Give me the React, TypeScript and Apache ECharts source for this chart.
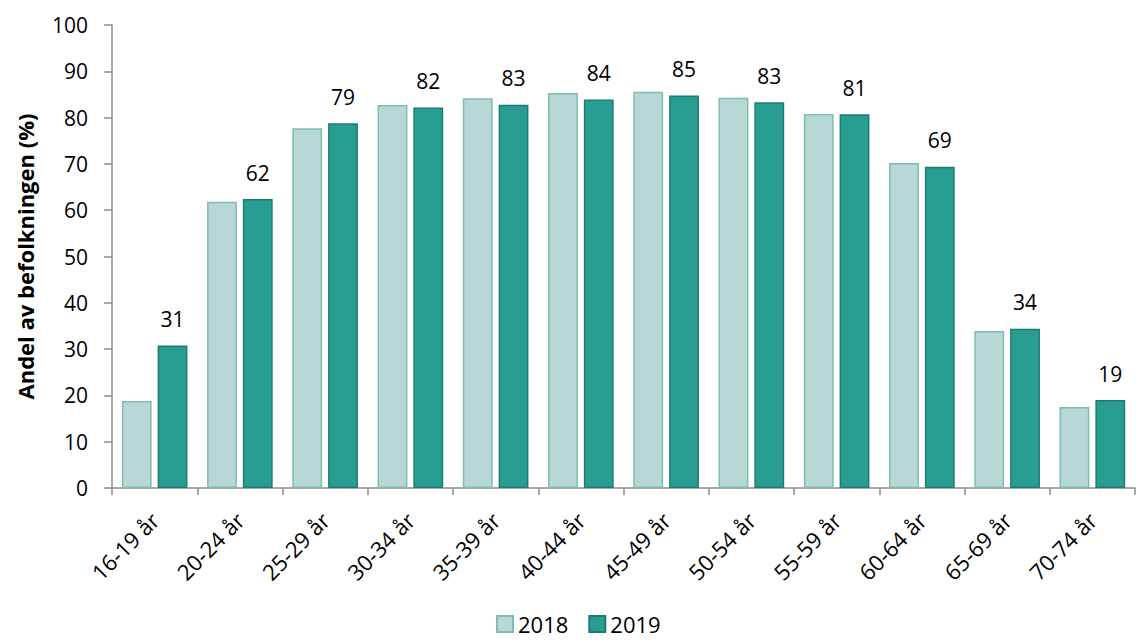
import React, { useEffect, useRef } from "react";
import * as echarts from "echarts";

const categories = ["16-19 år", "20-24 år", "25-29 år", "30-34 år", "35-39 år", "40-44 år", "45-49 år", "50-54 år", "55-59 år", "60-64 år", "65-69 år", "70-74 år"];
const values2018 = [18.8, 61.8, 77.7, 82.7, 84.2, 85.3, 85.6, 84.3, 80.8, 70.2, 33.9, 17.5];
const values2019 = [30.8, 62.4, 78.8, 82.2, 82.8, 83.9, 84.8, 83.3, 80.7, 69.4, 34.4, 19.0];
const yTicks = [0, 10, 20, 30, 40, 50, 60, 70, 80, 90, 100];

const FONT = "'Open Sans', Carlito, Lato, sans-serif";

export default function App() {
  const ref = useRef<HTMLDivElement>(null);
  useEffect(() => {
    if (!ref.current) return;
    const chart = echarts.init(ref.current, null, { renderer: "svg" });
    chart.setOption({
      animation: false,
      textStyle: { fontFamily: FONT },
      grid: { left: 112, right: 1, top: 25, bottom: 153, containLabel: false },
      legend: {
        top: 613,
        left: 496,
        padding: 0,
        itemWidth: 16,
        itemHeight: 16,
        itemGap: 20,
        icon: "rect",
        textStyle: { fontSize: 22, lineHeight: 22, color: "#000", fontFamily: FONT },
        data: ["2018", "2019"],
      },
      xAxis: {
        type: "category",
        data: categories,
        axisLine: { lineStyle: { color: "#8c8c8c", width: 1.5 } },
        axisTick: { show: true, length: 7, lineStyle: { color: "#8c8c8c", width: 1.5 } },
        axisLabel: { rotate: 45, fontSize: 22, color: "#000", margin: 28, fontFamily: FONT },
      },
      yAxis: {
        type: "value",
        min: yTicks[0],
        max: yTicks[yTicks.length - 1],
        interval: 10,
        name: "Andel av befolkningen (%)",
        nameLocation: "middle",
        nameGap: 76,
        nameTextStyle: { fontSize: 22, fontWeight: "bold", color: "#000", fontFamily: FONT },
        splitLine: { show: false },
        axisLine: { show: true, lineStyle: { color: "#8c8c8c", width: 1.5 } },
        axisTick: { show: true, length: 8, lineStyle: { color: "#8c8c8c", width: 1.5 } },
        axisLabel: { fontSize: 21, color: "#000", margin: 24, fontFamily: FONT },
      },
      series: [
        {
          name: "2018",
          type: "bar",
          data: values2018,
          barWidth: "35%",
          barGap: "20%",
          itemStyle: { color: "#b7d8d5", borderColor: "#7dbdb4", borderWidth: 1.5 },
        },
        {
          name: "2019",
          type: "bar",
          data: values2019,
          barWidth: "35%",
          barGap: "20%",
          itemStyle: { color: "#279e91", borderColor: "#1e7d72", borderWidth: 1.5 },
          label: {
            show: true,
            position: "top",
            distance: 16,
            fontSize: 21,
            color: "#000",
            fontFamily: FONT,
            formatter: (p: any) => String(Math.round(p.value)),
          },
        },
      ],
    });
    return () => chart.dispose();
  }, []);
  return <div ref={ref} style={{ width: 1136, height: 641, position: "absolute", left: 0, top: 0 }} />;
}
